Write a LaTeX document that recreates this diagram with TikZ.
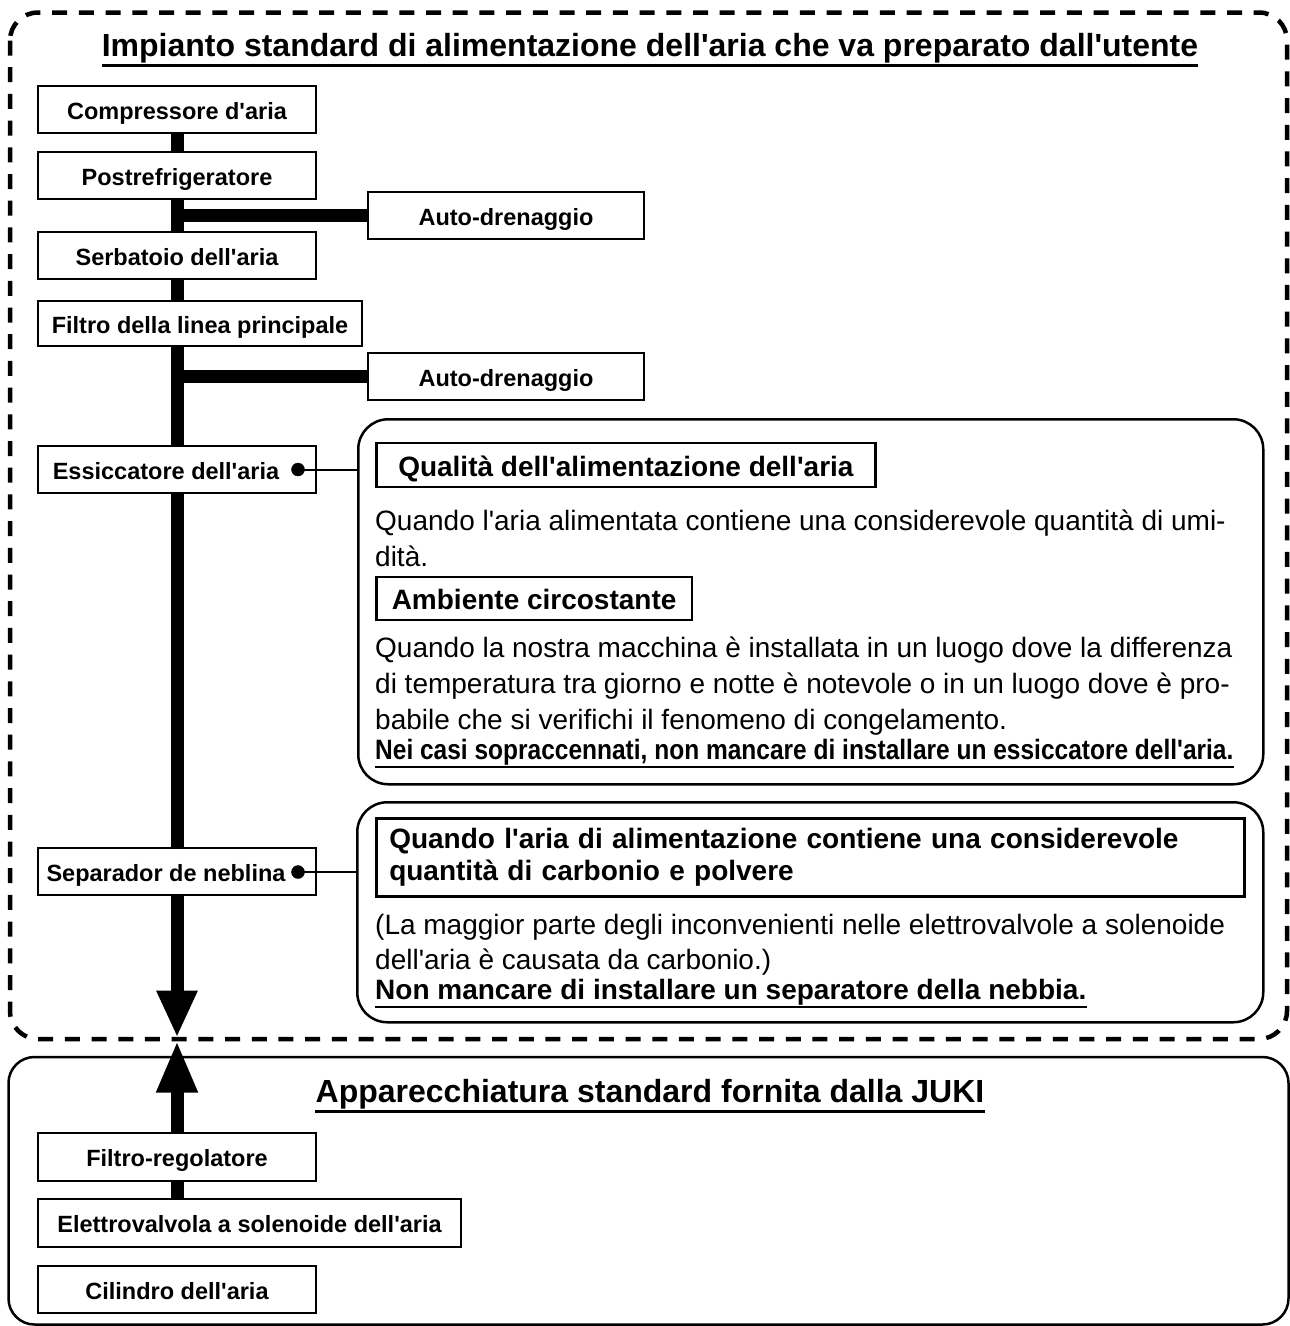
\documentclass[tikz,border=0pt]{standalone}
\usepackage{fontspec}
\newfontfamily\arialf{Liberation Sans}
\usepackage{graphicx}
\usetikzlibrary{arrows.meta}
\pgfdeclarelayer{bg}
\pgfsetlayers{bg,main}
\begin{document}
\begin{tikzpicture}[x=1pt,y=-1pt,
  box/.style={draw, fill=white, line width=2.5pt, inner sep=0pt, minimum height=47pt,
    text height=19.4pt, text depth=0pt,
    font=\arialf\bfseries\fontsize{23.5}{28}\selectfont},
  hbox/.style={draw, line width=2.5pt, inner ysep=0pt,
    font=\arialf\bfseries\fontsize{28}{32}\selectfont},
  tbox/.style={draw, line width=2.5pt, rounded corners=30pt, inner sep=0pt},
  body/.style={anchor=base west, inner sep=0pt, font=\arialf\fontsize{28}{34}\selectfont},
  bbody/.style={anchor=base west, inner sep=0pt, font=\arialf\bfseries\fontsize{28}{34}\selectfont},
  titlef/.style={anchor=base, inner sep=0pt, font=\arialf\bfseries\fontsize{32}{38}\selectfont},
  ul/.style={line width=2.6pt},
  trunk/.style={line width=13pt},
  bar/.style={line width=13.5pt},
  conn/.style={line width=2pt},
  dotn/.style={circle, fill=black, draw=black, inner sep=0pt, minimum size=13pt},
  dashreg/.style={line width=4.5pt, dash pattern=on 15pt off 11.7pt, rounded corners=28pt},
  frame/.style={line width=2.5pt, rounded corners=26pt}
]
\useasboundingbox (0,0) rectangle (1290,1326);

% titles
\node[titlef] (title) at (650,56.5) {Impianto standard di alimentazione dell'aria che va preparato dall'utente};
\node[titlef] (title2) at (650,1102.5) {Apparecchiatura standard fornita dalla JUKI};

% chain boxes
\node[box, minimum width=278pt] (comp) at (177,109.5) {Compressore d'aria};
\node[box, minimum width=278pt] (post) at (177,175.5) {Postrefrigeratore};
\node[box, minimum width=276pt] (ad1) at (506,215.5) {Auto-drenaggio};
\node[box, minimum width=278pt] (serb) at (177,255.5) {Serbatoio dell'aria};
\node[box, minimum width=324pt, minimum height=45pt] (filt) at (200,323.5) {Filtro della linea principale};
\node[box, minimum width=276pt] (ad2) at (506,376.5) {Auto-drenaggio};
\node[box, minimum width=278pt] (ess) at (177,469.5) {Essiccatore dell'aria\hspace*{22pt}};
\node[box, minimum width=278pt] (sep) at (177,871.5) {Separador de neblina\hspace*{22pt}};
\node[box, minimum width=278pt, minimum height=48pt] (reg) at (177,1157) {Filtro-regolatore};
\node[box, minimum width=423pt, minimum height=48pt] (elet) at (249.5,1223) {Elettrovalvola a solenoide dell'aria};
\node[box, minimum width=278pt] (cil) at (177,1289.5) {Cilindro dell'aria};

% text box 1
\node[tbox, minimum width=905pt, minimum height=365pt, anchor=north west] (tb1) at (357,418) {};
\node[hbox, inner xsep=22pt, minimum height=44pt, text height=22pt, text depth=0pt, anchor=west] (q1) at (375,465) {Qualità dell'alimentazione dell'aria};
\node[body] (t1) at (375,530) {Quando l'aria alimentata contiene una considerevole quantità di umi-};
\node[body] (t2) at (375,566) {dità.};
\node[hbox, inner xsep=15.5pt, minimum height=43pt, text height=22pt, text depth=0pt, anchor=west] (amb) at (375,598.5) {Ambiente circostante};
\node[body] (t3) at (375,657) {Quando la nostra macchina è installata in un luogo dove la differenza};
\node[body] (t4) at (375,693) {di temperatura tra giorno e notte è notevole o in un luogo dove è pro-};
\node[body] (t5) at (375,729) {babile che si verifichi il fenomeno di congelamento.};
\node[bbody] (t6) at (375,759) {\scalebox{0.875}[1]{Nei casi sopraccennati, non mancare di installare un essiccatore dell'aria.}};

% text box 2
\node[tbox, minimum width=906pt, minimum height=220pt, anchor=north west] (tb2) at (356,801) {};
\node[hbox, anchor=north west, text width=842pt, inner xsep=13pt, minimum height=78pt, align=left] (q2) at (375,817) {Quando l'aria di alimentazione contiene una considerevole\\quantità di carbonio e polvere};
\node[body] (t7) at (375,934) {(La maggior parte degli inconvenienti nelle elettrovalvole a solenoide};
\node[body] (t8) at (375,969) {dell'aria è causata da carbonio.)};
\node[bbody] (t9) at (375,999) {Non mancare di installare un separatore della nebbia.};

% underlines
\draw[ul] ([yshift=-2pt]title.south west) -- ([yshift=-2pt]title.south east);
\draw[ul] ([yshift=-2pt]title2.south west) -- ([yshift=-2pt]title2.south east);
\draw[ul] ([yshift=-2pt]t6.south west) -- ([yshift=-2pt]t6.south east);
\draw[ul] ([yshift=-2pt]t9.south west) -- ([yshift=-2pt]t9.south east);

% dots and leader lines
\node[dotn] (d1) at (298,469.5) {};
\node[dotn] (d2) at (298,872) {};
\draw[conn] (d1.center) -- (d1.center -| tb1.west);
\draw[conn] (d2.center) -- (d2.center -| tb2.west);

% background: frames, trunk, bars
\coordinate (ttop) at (177,110);
\coordinate (tipd) at (177,1037.5);
\coordinate (tipu) at (177,1040.5);
\begin{pgfonlayer}{bg}
  \draw[dashreg] (10,12.5) rectangle (1287,1039);
  \draw[frame] (8.5,1057) rectangle (1288.5,1324.5);
  \draw[trunk, -{Triangle[width=38pt,length=47pt]}] (ttop) -- (tipd);
  \draw[trunk, -{Triangle[width=38pt,length=52pt]}] (reg.north) -- (tipu);
  \draw[trunk] (reg.south) -- (reg.south |- elet.north);
  \draw[bar] (ttop |- ad1.west) -- (ad1.west);
  \draw[bar] (ttop |- ad2.west) -- (ad2.west);
\end{pgfonlayer}
\end{tikzpicture}
\end{document}
